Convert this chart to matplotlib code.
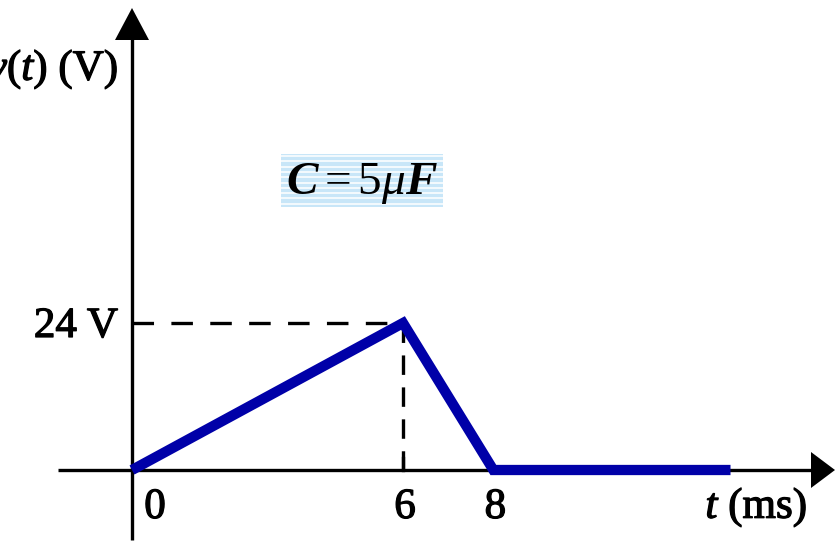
import matplotlib
matplotlib.use("Agg")
import matplotlib.pyplot as plt
import matplotlib.patheffects as pe
from matplotlib.patches import Polygon, Rectangle

# waveform data
t_ms = [0, 6, 8, 13.25]
v_volts = [0, 24, 0, 0]
peak_t, peak_v = 6, 24
tick_pos = [0, 6, 8]
tick_labels = ["0", "6", "8"]

plt.rcParams["font.family"] = "Liberation Serif"
plt.rcParams["mathtext.fontset"] = "custom"
plt.rcParams["mathtext.rm"] = "Liberation Serif"
plt.rcParams["mathtext.it"] = "Liberation Serif:italic"
plt.rcParams["mathtext.bf"] = "Liberation Serif:bold:italic"
plt.rcParams["lines.scale_dashes"] = False

W, H = 836, 543
X0, Y0 = 132, 470          # pixel position of origin
xs, ys = 45.17, 147 / 24   # pixels per ms, pixels per volt

heavy = [pe.withStroke(linewidth=0.9, foreground="black")]


def px(x, y):
    # pixel position -> data coords
    return (x - X0) / xs, (Y0 - y) / ys


fig = plt.figure(figsize=(W / 100, H / 100), dpi=100)
ax = fig.add_axes([0, 0, 1, 1])
ax.axis("off")
ax.set_xlim(-X0 / xs, (W - X0) / xs)
ax.set_ylim((Y0 - H) / ys, Y0 / ys)

# axes with arrow heads
ax.plot(*zip(px(X0, 540), px(X0, 39)), color="black", lw=2.4, solid_capstyle="butt")
ax.plot(*zip(px(58, Y0), px(812, Y0)), color="black", lw=2.4, solid_capstyle="butt")
ax.add_patch(Polygon([px(132, 8), px(115, 40), px(149, 40)], closed=True, color="black", lw=0))
ax.add_patch(Polygon([px(835, 470), px(811, 452), px(811, 488)], closed=True, color="black", lw=0))

# dashed guides to the peak
ax.plot([0, peak_t], [peak_v, peak_v], color="black", lw=2.4, dashes=(15.5, 12.5), solid_capstyle="butt")
ax.plot([peak_t, peak_t], [peak_v, 0], color="black", lw=2.4, dashes=(14, 9))
ax.plot([peak_t, peak_t], [0, 12 / ys], color="black", lw=2.4)

# waveform
ax.plot(t_ms, v_volts, color="#0000a8", lw=7.4, solid_joinstyle="miter", solid_capstyle="butt", zorder=5)

# labels
for p, lab in zip(tick_pos, tick_labels):
    off = 23 if p == 0 else 2
    ax.text(p + off / xs, px(0, 518)[1], lab, ha="center", va="baseline", fontsize=31, path_effects=heavy)
ax.text(*px(807, 518), r"$t$ (ms)", ha="right", va="baseline", fontsize=31, path_effects=heavy)
ax.text(px(118, 0)[0], peak_v - 14 / ys, "24 V", ha="right", va="baseline", fontsize=31, path_effects=heavy)
ax.text(*px(118, 80), r"$v(t)$ (V)", ha="right", va="baseline", fontsize=31, path_effects=heavy)

# striped box with capacitance
bx0, by0 = px(281, 207)
bx1, by1 = px(443, 154)
ax.add_patch(Rectangle((bx0, by0), bx1 - bx0, by1 - by0, color="#c8e6f8", lw=0, zorder=2))
yy = 156
while yy < 207:
    ax.plot([bx0, bx1], [px(0, yy)[1]] * 2, color="white", lw=1.1, zorder=3)
    yy += 5.3
ax.text(*px(286, 194), r"$\mathbf{C}=\mathit{5}\mu\mathbf{F}$", ha="left", va="baseline",
        fontsize=34, zorder=4)

fig.savefig("out.png", dpi=100)
